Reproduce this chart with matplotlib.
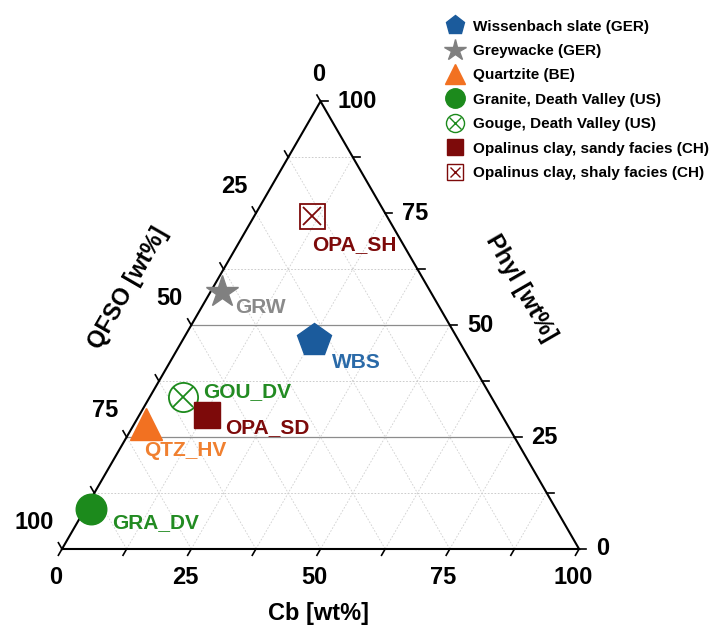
import numpy as np
import matplotlib.pyplot as plt
from matplotlib.lines import Line2D

plt.rcParams['font.family'] = ['Liberation Sans', 'DejaVu Sans']
plt.rcParams['font.weight'] = 'bold'

# samples: Cb, Phyl (QFSO = rest) in wt%
names = ["Wissenbach slate (GER)", "Greywacke (GER)", "Quartzite (BE)",
         "Granite, Death Valley (US)", "Gouge, Death Valley (US)",
         "Opalinus clay, sandy facies (CH)", "Opalinus clay, shaly facies (CH)"]
short = ["WBS", "GRW", "QTZ_HV", "GRA_DV", "GOU_DV", "OPA_SD", "OPA_SH"]
cb = [25.3, 2.3, 2.2, 1.1, 6.4, 13.0, 11.2]
phyl = [46.7, 57.3, 28.0, 8.9, 34.0, 30.0, 74.3]
colors = ["#1b5b9c", "#808080", "#f27121", "#1c8a1c", "#1c8a1c", "#7d0a0a", "#7d0a0a"]
label_colors = ["#2a6aa8", "#8a8a8a", "#f08030", "#228b22", "#228b22", "#7d0a0a", "#7d0a0a"]
markers = ["p", "*", "^", "o", "o", "s", "s"]
filled = [True, True, True, True, False, True, False]
ticks = [0, 25, 50, 75, 100]

H = np.sqrt(3) / 2


def tern(c, p):
    c = np.asarray(c, float)
    p = np.asarray(p, float)
    return c + p / 2, p * H


fig = plt.figure(figsize=(7.13, 6.33), dpi=100)
ax = fig.add_axes([0, 0, 1, 1])
ax.set_xlim(-11.99, 125.9)
ax.set_ylim(-16.25, 106.2)
ax.axis('off')

# grid
for v in np.arange(12.5, 100, 12.5):
    # constant Phyl (horizontal)
    if v in (25, 50):
        x, y = tern([0, 100 - v], [v, v])
        ax.plot(x, y, color='#8c8c8c', lw=0.9, zorder=1)
    elif v != 75:
        x, y = tern([0, 100 - v], [v, v])
        ax.plot(x, y, color='#c4c4c4', lw=0.6, ls=(0, (2, 2)), zorder=1)
    # constant Cb
    x, y = tern([v, v], [0, 100 - v])
    ax.plot(x, y, color='#cfcfcf', lw=0.6, ls=(0, (2, 2)), zorder=1)
    # constant QFSO
    x, y = tern([100 - v, 0], [0, 100 - v])
    ax.plot(x, y, color='#cfcfcf', lw=0.6, ls=(0, (2, 2)), zorder=1)

# triangle frame
x, y = tern([0, 100, 0, 0], [0, 0, 100, 0])
ax.plot(x, y, color='black', lw=1.5, zorder=2, solid_joinstyle='miter')

tl = 1.4
for v in np.arange(0, 100.1, 12.5):
    # bottom (Cb)
    bx, by = tern(v, 0)
    ax.plot([bx, bx - tl * 0.5], [by, by - tl * H], color='black', lw=1.2, zorder=2)
    # right (Phyl)
    rx, ry = tern(100 - v, v)
    ax.plot([rx, rx + tl], [ry, ry], color='black', lw=1.2, zorder=2)
    # left (QFSO)
    lx, ly = tern(0, 100 - v)
    ax.plot([lx, lx - tl * 0.5], [ly, ly + tl * H], color='black', lw=1.2, zorder=2)

tfs = 17
for v in ticks:
    bx, by = tern(v, 0)
    ax.text(bx - 1.2, by - 3.2, str(v), ha='center', va='top', fontsize=tfs)
    rx, ry = tern(100 - v, v)
    ax.text(rx + 3.3, ry, str(v), ha='left', va='center', fontsize=tfs)
    lx, ly = tern(0, 100 - v)
    if v == 0:
        ax.text(lx - 0.4, ly + 5.2, str(v), ha='center', va='center', fontsize=tfs)
    else:
        ax.text(lx - 1.6, ly + 5.2, str(v), ha='right', va='center', fontsize=tfs)

ax.text(49.7, -12.4, "Cb [wt%]", ha='center', va='center', fontsize=17)
ax.text(12.8, 50.5, "QFSO [wt%]", ha='center', va='center', fontsize=17, rotation=60)
ax.text(88.8, 50.5, "Phyl [wt%]", ha='center', va='center', fontsize=17, rotation=-60)

sizes = [25, 24, 23, 22, 21, 19, 18]
offsets = [(18, -23), (13, -15), (-2, -27), (21, -13), (20, 5), (18, -13), (0, -28)]
px, py = tern(cb, phyl)
for i in range(len(names)):
    if filled[i]:
        ax.plot(px[i], py[i], marker=markers[i], ms=sizes[i], color=colors[i],
                mec=colors[i], ls='none', zorder=4)
    else:
        ax.plot(px[i], py[i], marker=markers[i], ms=sizes[i], mfc='none',
                mec=colors[i], mew=1.3, ls='none', zorder=4)
        ax.plot(px[i], py[i], marker='x', ms=sizes[i] * 0.7, color=colors[i],
                mew=1.3, ls='none', zorder=4)
    ax.annotate(short[i], (px[i], py[i]), xytext=(offsets[i][0] * 0.72, offsets[i][1] * 0.72),
                textcoords='offset points', ha='left', va='center', fontsize=15,
                color=label_colors[i], zorder=5)

# legend
handles = []
for i in range(len(names)):
    ms = 14 if markers[i] != "*" else 16
    if markers[i] == "s":
        ms = 12
    if filled[i]:
        h = Line2D([], [], marker=markers[i], ms=ms, color=colors[i], ls='none')
    else:
        h = (Line2D([], [], marker=markers[i], ms=ms - 1, mfc='none', mec=colors[i], mew=1, ls='none'),
             Line2D([], [], marker='x', ms=(ms - 1) * 0.7, color=colors[i], mew=1, ls='none'))
    handles.append(h)
fig.legend(handles, names, loc='upper left', bbox_to_anchor=(438 / 713, 1 - 12 / 633),
           frameon=False, prop={'size': 11, 'weight': 'bold'}, handlelength=1.2,
           handletextpad=0.6, labelspacing=0.68, borderpad=0)

fig.savefig("out.png", dpi=100)
